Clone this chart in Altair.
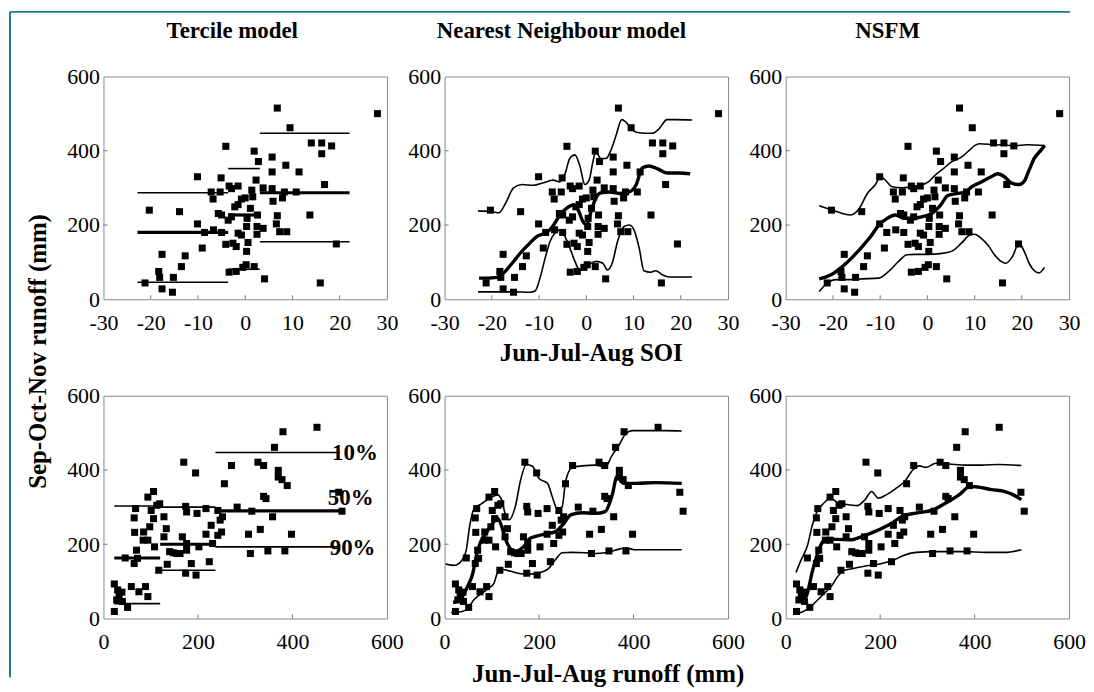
import altair as alt
import pandas as pd

FONT = "Liberation Serif"
W, H = 285, 224

# ---------------- tick labels ----------------
soi_ticks = [-30, -20, -10, 0, 10, 20, 30]
soi_inner_ticks = [-20, -10, 0, 10, 20]
runoff_ticks = [0, 200, 400, 600]
runoff_inner_ticks = [200, 400]

# ---------------- scatter: Jun-Jul-Aug SOI vs Sep-Oct-Nov runoff ----------------
top_soi = [-21.2, -20.3, -17.6, -18.3, -18.1, -17.6, -15.4, -15.2, -13.9, -13.5, -12.7, -10.1, -10.1,
           -9.1, -8.6, -6.8, -7.2, -5.1, -5.3, -5.7, -5.0, -6.7, -5.0, -4.1, -4.1, -3.4, -3.4, -2.9,
           -1.5, -3.6, -2.9, -2.2, -1.5, -2.6, -1.9, -1.9, -1.5, -0.8, -0.8, 0.0, 0.3, 0.4, 0.6, 0.3,
           -0.5, 0.2, 1.1, 1.4, 1.6, 1.9, 2.3, 2.5, 2.5, 2.8, 2.6, 1.9, 3.8, 3.8, 4.1, 5.7, 5.7, 5.7,
           5.9, 6.8, 6.8, 6.6, 7.3, 7.9, 8.3, 8.6, 8.8, 9.5, 11.4, 10.8, 13.7, 14.0, 16.2, 16.2, 15.9,
           16.8, 18.3, 19.3, 28.0]
top_son = [44, 240, 121, 75, 59, 28, 19, 59, 236, 88, 117, 330, 203,
           138, 180, 270, 289, 327, 289, 231, 227, 187, 180, 412, 148, 73, 305, 298,
           305, 213, 222, 249, 255, 151, 142, 75, 178, 173, 270, 273, 196, 218, 153, 129,
           86, 93, 245, 294, 276, 399, 321, 196, 175, 371, 227, 88, 300, 191, 55, 383, 343, 298,
           264, 515, 225, 203, 182, 273, 289, 361, 182, 462, 343, 289, 227, 421, 421, 392, 44,
           309, 413, 149, 500]

# ---------------- scatter: Jun-Jul-Aug runoff vs Sep-Oct-Nov runoff ----------------
bot_jja = [23, 23, 30, 33, 28, 40, 51, 39, 59, 75, 89, 94, 68, 65, 66, 65, 70, 72, 84, 85, 94, 98,
           94, 106, 101, 106, 108, 113, 119, 117, 128, 128, 133, 135, 140, 148, 155, 162, 170, 167,
           174, 176, 176, 176, 174, 186, 195, 196, 198, 202, 217, 217, 224, 228, 231, 242, 242, 247,
           252, 250, 256, 271, 283, 307, 311, 314, 327, 332, 339, 339, 344, 348, 358, 362, 370, 370,
           378, 380, 384, 389, 398, 452, 505, 498, 46]
bot_son = [93, 19, 77, 59, 50, 46, 30, 71, 86, 72, 86, 59, 296, 271, 232, 148, 184, 162, 211, 233, 211, 247,
           327, 342, 291, 269, 193, 305, 309, 130, 274, 220, 242, 146, 180, 177, 175, 175, 421, 220,
           302, 287, 202, 184, 122, 148, 392, 117, 283, 193, 296, 227, 153, 251, 202, 291, 224, 265,
           274, 233, 363, 412, 300, 227, 175, 289, 421, 240, 412, 329, 323, 182, 274, 461, 399, 381,
           374, 503, 182, 358, 227, 515, 289, 340, 163]

# ---------------- Tercile model (SOI) ----------------
ter_soi_start = [-22.8, -3.6, 3.1]
ter_soi_end = [-3.6, 3.1, 22.1]
ter_soi_p10 = [287, 352, 447]
ter_soi_p50 = [180, 227, 287]
ter_soi_p90 = [46, 81, 155]

# ---------------- Tercile model (JJA runoff) ----------------
ter_jja_start = [23, 120, 237]
ter_jja_end = [120, 237, 500]
ter_jja_p10 = [303, 300, 447]
ter_jja_p50 = [163, 200, 290]
ter_jja_p90 = [40, 130, 193]

pct_labels = ["10%", "50%", "90%"]
pct_label_x = [484, 475, 479]
pct_label_y = [447, 324, 190]

# ---------------- Nearest Neighbour model (SOI) ----------------
nn_soi_p10_x = [-22.9, -20, -18.5, -17.1, -15.4, -13.6, -11.2, -9.1, -7.0, -5.6, -4.5, -3.5, -2.4, -1.4, -0.3,
                0.6, 1.4, 2.0, 3.1, 4.2, 5.2, 6.3, 7.5, 8.4, 9.8, 11.5, 14.0, 15.4, 17.1, 18.9, 22.4]
nn_soi_p10_y = [238, 236, 233, 258, 300, 309, 307, 314, 321, 316, 338, 379, 389, 361, 309,
                321, 370, 398, 379, 379, 401, 441, 484, 477, 455, 448, 447, 459, 484, 484, 483]
nn_soi_p50_x = [-22.7, -21.0, -18.9, -17.5, -15.7, -14.0, -12.2, -10.5, -8.7, -7.7, -6.6, -5.6, -4.2, -2.8,
                -1.7, -0.7, 0.1, 1.0, 2.0, 3.1, 4.9, 7.0, 9.1, 10.5, 11.9, 13.3, 15.0, 17.1, 19.6, 22.0]
nn_soi_p50_y = [57, 57, 59, 71, 97, 124, 148, 169, 178, 187, 206, 227, 245, 254,
                240, 209, 200, 236, 272, 287, 289, 285, 289, 307, 354, 359, 352, 340, 340, 338]
nn_soi_p90_x = [-22.9, -18.9, -15.4, -11.9, -10.8, -9.8, -8.7, -7.7, -6.6, -5.6, -4.5, -3.5, -2.4, -1.4, -0.3,
                0.7, 2.1, 3.5, 4.5, 5.6, 6.6, 8.0, 9.1, 10.1, 11.2, 12.2, 13.6, 14.7, 16.1, 17.5, 19.6, 22.4]
nn_soi_p90_y = [20, 20, 20, 19, 23, 57, 111, 155, 179, 187, 169, 139, 102, 79, 86,
                95, 102, 97, 79, 102, 155, 196, 200, 187, 138, 77, 73, 77, 66, 60, 60, 60]

# ---------------- NSFM (SOI) ----------------
ns_soi_p10_x = [-22.9, -20.1, -18.0, -16.2, -14.5, -12.7, -11.0, -9.9, -8.9, -7.5, -5.4, -3.3, -1.5, 0.2, 1.6,
                3.4, 5.1, 7.2, 8.6, 10.0, 11.0, 14.2, 18.4, 21.2, 24.8]
ns_soi_p10_y = [252, 240, 231, 227, 243, 285, 309, 330, 321, 303, 300, 303, 307, 316, 334,
                352, 370, 383, 398, 414, 419, 416, 414, 416, 414]
ns_soi_p50_x = [-22.9, -20.4, -18.0, -15.9, -13.8, -12.0, -10.3, -8.5, -6.8, -5.0, -3.3, -1.2, 0.9, 2.7, 4.4,
                6.2, 7.9, 9.4, 11.4, 13.5, 14.9, 16.3, 17.7, 19.4, 20.5, 21.5, 22.6, 24.0, 24.8]
ns_soi_p50_y = [55, 66, 88, 113, 142, 169, 200, 218, 227, 218, 218, 222, 231, 252, 280,
                285, 288, 303, 316, 330, 338, 330, 314, 309, 318, 347, 379, 401, 414]
ns_soi_p90_x = [-22.9, -21.1, -19.4, -16.6, -13.8, -10.3, -8.2, -6.1, -4.3, -2.6, 0.2, 2.7, 5.1, 7.2, 9.0,
                10.0, 11.4, 12.8, 14.2, 15.6, 16.6, 18.0, 19.4, 20.5, 21.7, 22.8, 23.6, 24.8]
ns_soi_p90_y = [21, 44, 53, 53, 55, 57, 75, 102, 120, 121, 121, 123, 129, 151, 173,
                175, 164, 146, 120, 102, 97, 115, 151, 129, 93, 75, 71, 86]

# ---------------- Nearest Neighbour model (JJA runoff) ----------------
nn_jja_p10_x = [2, 21, 35, 46, 53, 63, 77, 98, 112, 121, 128, 137, 150, 161, 173, 186, 200, 218, 228, 239,
                249, 256, 270, 291, 319, 340, 355, 369, 383, 397, 432, 467, 502]
nn_jja_p10_y = [147, 143, 154, 185, 248, 297, 308, 326, 333, 319, 283, 266, 303, 373, 415, 410, 377, 364, 328, 294,
                301, 368, 407, 411, 413, 408, 440, 466, 497, 506, 506, 506, 505]
nn_jja_p50_x = [18, 28, 39, 49, 60, 67, 77, 88, 102, 112, 121, 128, 138, 147, 158, 168, 179, 193, 214, 235,
                253, 267, 291, 319, 340, 355, 365, 379, 404, 446, 502]
nn_jja_p50_y = [43, 47, 61, 87, 123, 168, 208, 230, 257, 270, 248, 217, 190, 177, 184, 194, 214, 221, 228, 234,
                257, 279, 285, 283, 288, 333, 382, 364, 364, 366, 364]
nn_jja_p90_x = [14, 35, 49, 63, 81, 95, 105, 112, 123, 140, 158, 176, 200, 218, 235, 249, 270, 298, 319, 340,
                361, 383, 404, 446, 502]
nn_jja_p90_y = [16, 18, 27, 52, 70, 83, 96, 123, 132, 127, 121, 119, 123, 132, 159, 177, 178, 177, 175, 177,
                184, 190, 185, 185, 185]

# ---------------- NSFM (JJA runoff) ----------------
ns_jja_p10_x = [22, 32, 46, 56, 67, 81, 95, 109, 130, 151, 168, 182, 196, 213, 234, 252, 269, 283, 297, 318,
                346, 381, 415, 450, 499]
ns_jja_p10_y = [124, 156, 196, 249, 289, 311, 324, 313, 307, 304, 320, 342, 324, 333, 351, 369, 400, 411, 407, 418,
                416, 413, 413, 415, 412]
ns_jja_p50_x = [32, 43, 49, 56, 67, 77, 88, 109, 137, 164, 192, 220, 248, 276, 311, 339, 367, 391, 408, 436,
                464, 482, 499]
ns_jja_p50_y = [62, 58, 84, 124, 173, 204, 215, 213, 212, 222, 236, 253, 276, 284, 292, 311, 333, 356, 354, 347,
                342, 333, 320]
ns_jja_p90_x = [22, 36, 49, 67, 84, 98, 109, 123, 144, 171, 199, 227, 248, 276, 311, 346, 381, 422, 464, 499]
ns_jja_p90_y = [13, 18, 27, 49, 71, 89, 111, 129, 135, 142, 147, 156, 169, 178, 180, 180, 180, 178, 178, 185]

LABEL_EXPR = "'' + datum.value"


def x_encoding(domain, ticks, title, title_x, title_y):
    kw = dict(values=ticks, grid=False, domain=False, ticks=False, labelFont=FONT, labelFontSize=22,
              labelColor="black", labelPadding=13, labelOverlap=False, labelFlush=False, labelExpr=LABEL_EXPR)
    if title:
        kw.update(title=title, titleFont=FONT, titleFontSize=25, titleFontWeight="bold", titleColor="black",
                  titleX=title_x, titleY=title_y, titleBaseline="alphabetic", titleAlign="center")
    else:
        kw["title"] = ""
    return alt.X("x:Q", scale=alt.Scale(domain=domain, nice=False, zero=False), axis=alt.Axis(**kw))


def y_encoding(title):
    kw = dict(values=runoff_ticks, grid=False, domain=False, ticks=False, labelFont=FONT, labelFontSize=22,
              labelColor="black", labelPadding=4, labelOverlap=False, labelFlush=False, labelExpr=LABEL_EXPR)
    if title:
        kw.update(title=title, titleFont=FONT, titleFontSize=25, titleFontWeight="bold", titleColor="black",
                  titleX=-58, titleY=276, titleAngle=270, titleBaseline="alphabetic", titleAlign="center")
    else:
        kw["title"] = ""
    return alt.Y("y:Q", scale=alt.Scale(domain=[0, 600], nice=False, zero=False), axis=alt.Axis(**kw))


def make_panel(px, py, domain, ticks, inner_ticks, curves=None, segments=None, labels=None,
               title=None, title_dx=0, xtitle="", xtitle_x=W / 2, xtitle_y=62, ytitle="", border=False):
    xe = x_encoding(domain, ticks, xtitle, xtitle_x, xtitle_y)
    ye = y_encoding(ytitle)
    layers = []
    if border:
        one = pd.DataFrame({"k": [0]})
        layers.append(alt.Chart(one).mark_rule(color="#1e7b8a", strokeWidth=2).encode(
            x=alt.value(-94), y=alt.value(-65), y2=alt.value(604)))
        layers.append(alt.Chart(one).mark_rule(color="#1e7b8a", strokeWidth=2).encode(
            x=alt.value(-94), x2=alt.value(972), y=alt.value(-65)))
    if title:
        layers.append(alt.Chart(pd.DataFrame({"t": [title]})).mark_text(
            font=FONT, fontSize=23, fontWeight="bold", color="black", align="center",
            baseline="alphabetic").encode(x=alt.value(W / 2 + title_dx), y=alt.value(-39), text="t:N"))
    # inward ticks
    layers.append(alt.Chart(pd.DataFrame({"x": inner_ticks})).mark_rule(color="#777", strokeWidth=1).encode(
        x=xe, y=alt.value(H), y2=alt.value(H - 4)))
    layers.append(alt.Chart(pd.DataFrame({"y": runoff_inner_ticks})).mark_rule(color="#777", strokeWidth=1).encode(
        y=ye, x=alt.value(0), x2=alt.value(4)))
    if segments:
        starts, ends, p10, p50, p90 = segments
        for vals, sw in ((p10, 1.6), (p90, 1.6), (p50, 3.2)):
            df = pd.DataFrame({"x": starts, "x2": ends, "y": vals})
            layers.append(alt.Chart(df).mark_rule(color="black", strokeWidth=sw).encode(
                x=xe, x2=alt.X2("x2:Q"), y=ye))
    if curves:
        for (cx, cy), sw in zip(curves, (1.6, 3.4, 1.6)):
            df = pd.DataFrame({"x": cx, "y": cy})
            layers.append(alt.Chart(df).mark_line(color="black", strokeWidth=sw, interpolate="monotone").encode(
                x=xe, y=ye))
    layers.append(alt.Chart(pd.DataFrame({"x": px, "y": py})).mark_square(size=50, color="black", opacity=1).encode(
        x=xe, y=ye))
    if labels:
        lt, lx, ly = labels
        layers.append(alt.Chart(pd.DataFrame({"x": lx, "y": ly, "t": lt})).mark_text(
            align="left", baseline="middle", font=FONT, fontSize=23, fontWeight="bold", color="black").encode(
            x=xe, y=ye, text="t:N"))
    return alt.layer(*layers).properties(width=W, height=H)


soi_dom = [-30, 30]
run_dom = [0, 600]

p1 = make_panel(top_soi, top_son, soi_dom, soi_ticks, soi_inner_ticks,
                segments=(ter_soi_start, ter_soi_end, ter_soi_p10, ter_soi_p50, ter_soi_p90),
                title="Tercile model", title_dx=-13, ytitle="Sep-Oct-Nov runoff (mm)", border=True)
p2 = make_panel(top_soi, top_son, soi_dom, soi_ticks, soi_inner_ticks,
                curves=[(nn_soi_p10_x, nn_soi_p10_y), (nn_soi_p50_x, nn_soi_p50_y), (nn_soi_p90_x, nn_soi_p90_y)],
                title="Nearest Neighbour model", title_dx=-25, xtitle="Jun-Jul-Aug SOI", xtitle_x=147,
                xtitle_y=62)
p3 = make_panel(top_soi, top_son, soi_dom, soi_ticks, soi_inner_ticks,
                curves=[(ns_soi_p10_x, ns_soi_p10_y), (ns_soi_p50_x, ns_soi_p50_y), (ns_soi_p90_x, ns_soi_p90_y)],
                title="NSFM", title_dx=-40)
p4 = make_panel(bot_jja, bot_son, run_dom, runoff_ticks, runoff_inner_ticks,
                segments=(ter_jja_start, ter_jja_end, ter_jja_p10, ter_jja_p50, ter_jja_p90),
                labels=(pct_labels, pct_label_x, pct_label_y))
p5 = make_panel(bot_jja, bot_son, run_dom, runoff_ticks, runoff_inner_ticks,
                curves=[(nn_jja_p10_x, nn_jja_p10_y), (nn_jja_p50_x, nn_jja_p50_y), (nn_jja_p90_x, nn_jja_p90_y)],
                xtitle="Jun-Jul-Aug runoff (mm)", xtitle_x=164, xtitle_y=63)
p6 = make_panel(bot_jja, bot_son, run_dom, runoff_ticks, runoff_inner_ticks,
                curves=[(ns_jja_p10_x, ns_jja_p10_y), (ns_jja_p50_x, ns_jja_p50_y), (ns_jja_p90_x, ns_jja_p90_y)])

chart = alt.concat(p1, p2, p3, p4, p5, p6, columns=3, spacing={"row": 97, "column": 58},
                   bounds="flush").properties(
    padding={"left": 0, "top": 0, "right": 0, "bottom": 0},
    background="white",
).configure_view(stroke="#8a8a8a", strokeWidth=1)

chart.save("out.html", embed_options={"renderer": "svg", "actions": False})
